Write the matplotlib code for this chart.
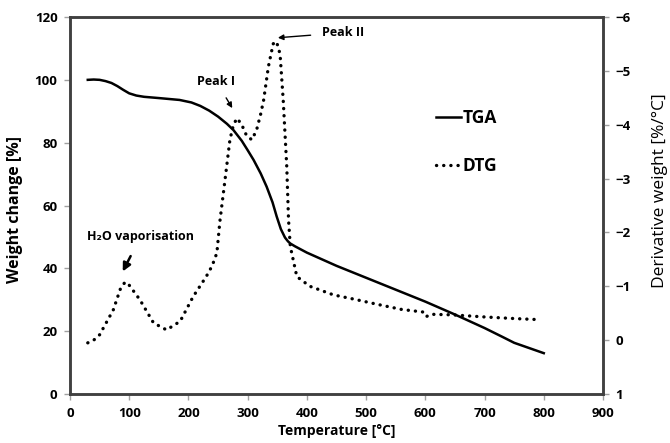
import matplotlib
matplotlib.use("Agg")
import matplotlib.pyplot as plt

plt.rcParams['font.family'] = ['Open Sans', 'DejaVu Sans']
plt.rcParams['font.weight'] = 'bold'

# TGA curve: weight change [%] vs temperature [°C]
tga_temp = [30, 40, 50, 60, 70, 80, 90, 100, 112, 125, 150, 185, 205, 220, 235, 250,
            265, 276, 290, 300, 310, 322, 332, 342, 349, 356, 363, 368, 372, 380,
            400, 450, 500, 550, 600, 650, 700, 730, 750, 800]
tga_weight = [100, 100.1, 100, 99.6, 99.0, 98.0, 96.8, 95.7, 95.0, 94.6, 94.2, 93.6,
              92.8, 91.7, 90.2, 88.3, 86.0, 84, 80.6, 77.6, 74.5, 70.2, 66, 61.0,
              56.5, 52.5, 49.8, 48.6, 47.9, 47.0, 45, 40.8, 37, 33.2, 29.4, 25.3,
              21, 18.2, 16.3, 13]

# DTG curve: derivative weight [%/°C]
dtg_temp = [30, 40, 50, 60, 73, 85, 93, 100, 118, 141, 163, 186, 208, 230, 240,
            248, 253, 262, 270, 276, 282, 290, 298, 307, 315, 322, 327, 335, 343,
            347, 352, 355, 360, 366, 369, 372, 383, 405, 445, 480, 521, 560, 598,
            602, 610, 645, 701, 752, 794]
dtg_value = [0.05, 0.0, -0.1, -0.3, -0.56, -0.95, -1.08, -1.02, -0.75, -0.32, -0.19,
             -0.35, -0.81, -1.18, -1.38, -1.62, -2.2, -3.0, -3.72, -4.0, -4.12, -4.0,
             -3.8, -3.72, -3.9, -4.2, -4.46, -5.08, -5.5, -5.55, -5.45, -5.26, -4.46,
             -3.22, -2.23, -1.74, -1.18, -1.0, -0.84, -0.76, -0.66, -0.57, -0.52,
             -0.44, -0.48, -0.47, -0.43, -0.40, -0.38]

spine_col = '#404040'

fig = plt.figure(figsize=(6.7, 4.43), dpi=100)
ax = fig.add_axes([0.1045, 0.1106, 0.7955, 0.851])
ax2 = ax.twinx()

ax.plot(tga_temp, tga_weight, color='black', lw=1.8, label='TGA')
ax2.plot(dtg_temp, dtg_value, color='black', lw=2.4, linestyle=(0, (0.05, 2.1)),
         dash_capstyle='round', label='DTG')

ax.set_xlim(0, 900)
ax.set_ylim(0, 120)
ax.set_xticks(range(0, 901, 100))
ax.set_yticks(range(0, 121, 20))
ax2.set_ylim(1, -6)
ax2.set_yticks(range(-6, 2))

for a in (ax, ax2):
    for s in a.spines.values():
        s.set_color(spine_col)
        s.set_linewidth(1.8)
    a.tick_params(direction='out', length=4, width=1, color='#a0a0a0',
                  labelsize=9.5, pad=5)

ax.set_xlabel('Temperature [°C]', fontsize=10, fontweight='bold', labelpad=3)
ax.set_ylabel('Weight change [%]', fontsize=11.5, fontweight='bold')
ax.yaxis.set_label_coords(-0.088, 0.49)
ax2.set_ylabel('Derivative weight [%/°C]', fontsize=12.5, fontweight='normal')
ax2.yaxis.set_label_coords(1.092, 0.54)

# legend
h1, l1 = ax.get_legend_handles_labels()
h2, l2 = ax2.get_legend_handles_labels()
leg = ax.legend(h1 + h2, l1 + l2, frameon=False, loc='upper left',
                bbox_to_anchor=(0.657, 0.798), handlelength=1.45, handletextpad=0.1,
                labelspacing=1.75, prop={'weight': 'bold', 'size': 12.5})

# annotations
ax.annotate('Peak I', xy=(274, 91), xytext=(247, 99.5), ha='center', va='center',
            fontsize=9, fontweight='bold',
            arrowprops=dict(arrowstyle='-|>', color='black', lw=1, shrinkA=6,
                            shrinkB=0, mutation_scale=8))
ax.annotate('Peak II', xy=(351, 113.4), xytext=(425, 115), ha='left', va='center',
            fontsize=9, fontweight='bold',
            arrowprops=dict(arrowstyle='-|>', color='black', lw=1, shrinkA=6,
                            shrinkB=0, mutation_scale=8))
ax.annotate('H₂O vaporisation', xy=(89, 39), xytext=(119, 50), ha='center',
            va='center', fontsize=9, fontweight='bold',
            arrowprops=dict(arrowstyle='-|>', color='black', lw=1.8, shrinkA=8,
                            shrinkB=0, mutation_scale=12))

fig.savefig('out.png', dpi=100)
